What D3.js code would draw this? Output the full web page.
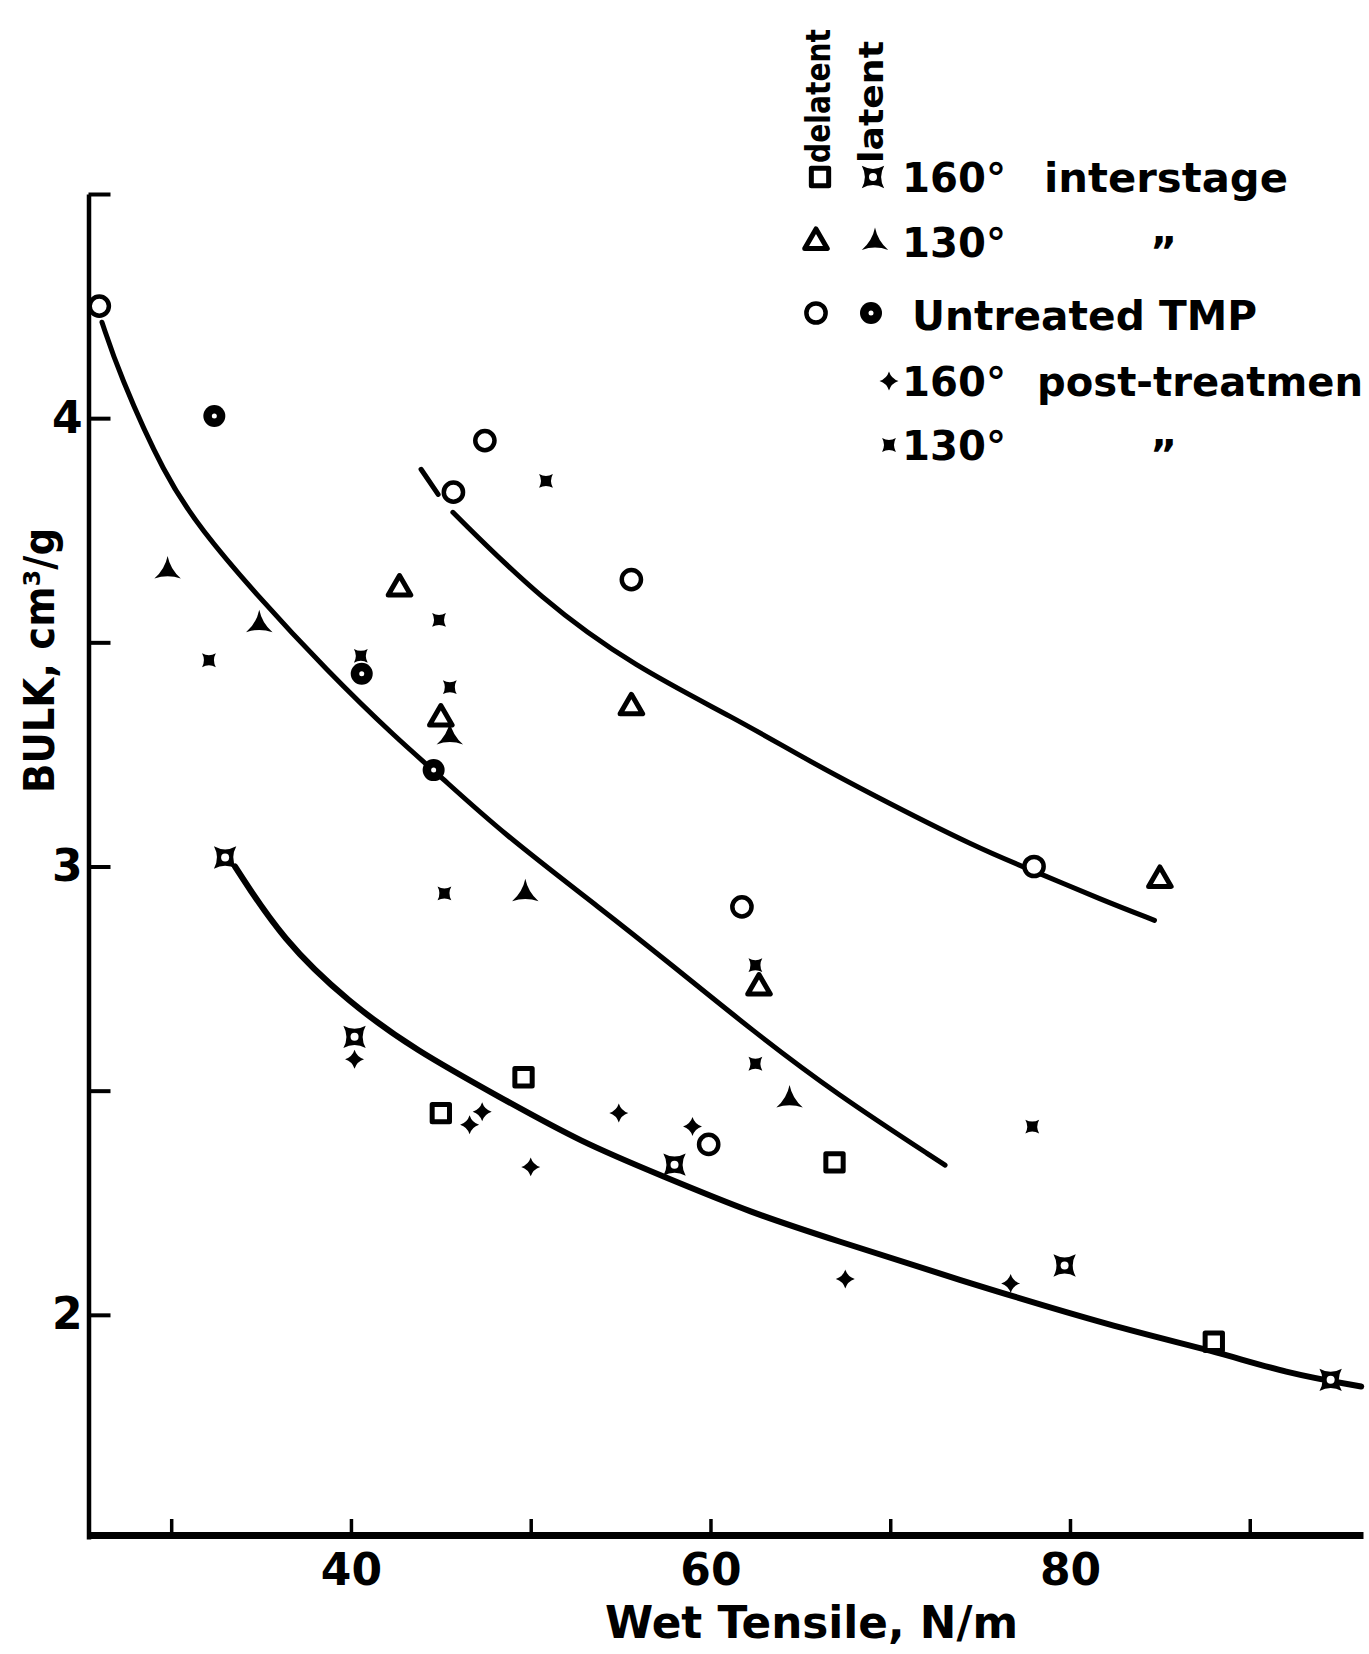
<!DOCTYPE html>
<html lang="en">
<head>
<meta charset="UTF-8">
<title>Bulk vs Wet Tensile</title>
<script src="https://cdn.jsdelivr.net/npm/d3@7"></script>
<style>
    body { margin: 0; background: #fff; }
    text { font-family: "DejaVu Sans", sans-serif; font-weight: bold; fill: #000; }
    .tick-label { font-size: 44px; }
    .axis-title { font-size: 44px; }
    .legend-text { font-size: 41px; }
    .legend-head { font-size: 34px; }
</style>
</head>
<body>
<div id="chart"></div>
<script>
// ---- data: [wet tensile N/m, bulk cm3/g] ----
const delatentUntreated = [[26.0, 4.25], [47.45, 3.95], [45.7, 3.835], [55.6, 3.64], [78.0, 3.0], [61.75, 2.91], [59.9, 2.38]];
const latentUntreated = [[32.4, 4.005], [40.6, 3.43], [44.6, 3.215]];
const delatent130 = [[42.7, 3.62], [45.0, 3.33], [55.6, 3.355], [62.7, 2.73], [85.0, 2.97]];
const latent130 = [[29.8, 3.66], [34.9, 3.54], [45.5, 3.29], [49.7, 2.94], [64.4, 2.48]];
const delatent160 = [[45.0, 2.45], [49.6, 2.53], [66.9, 2.34], [88.0, 1.94]];
const latent160 = [[33.0, 3.02], [40.2, 2.62], [58.0, 2.335], [79.7, 2.11], [94.5, 1.855]];
const post160 = [[40.2, 2.57], [47.3, 2.453], [46.6, 2.424], [50.0, 2.33], [54.9, 2.45], [59.0, 2.42], [67.5, 2.08], [76.7, 2.07]];
const post130 = [[50.85, 3.86], [32.1, 3.46], [44.9, 3.55], [45.5, 3.40], [40.55, 3.47], [45.2, 2.94], [62.5, 2.78], [62.5, 2.56], [77.9, 2.42]];

// hand-drawn fitted curves
const upperFitStub = [[43.9, 3.886], [44.85, 3.83]];
const upperFit = [[45.67, 3.79], [50.6, 3.594], [55.8, 3.445], [61.4, 3.33], [65.1, 3.244], [68.8, 3.164], [74.9, 3.04], [78.0, 2.99], [81.8, 2.925], [84.7, 2.88]];
const middleFit = [[26.15, 4.214], [27.1, 4.1], [29.65, 3.87], [31.7, 3.75], [34.5, 3.617], [38.7, 3.435], [42.7, 3.28], [44.6, 3.215], [48.4, 3.075], [54.0, 2.903], [57.7, 2.785], [62.3, 2.635], [66.9, 2.495], [73.05, 2.334]];
const lowerFit = [[33.55, 3.0], [36.2, 2.836], [39.9, 2.696], [43.6, 2.59], [48.3, 2.485], [52.85, 2.384], [57.3, 2.31], [62.3, 2.227], [66.9, 2.167], [73.4, 2.083], [82.7, 1.97], [88.0, 1.92], [92.0, 1.87], [96.2, 1.84]];

// axes
const xTicks = [30, 40, 50, 60, 70, 80, 90];
const xTickLabels = [40, 60, 80];
const yTicks = [2, 2.5, 3, 3.5, 4, 4.5];
const yTickLabels = [2, 3, 4];

// legend
const legendTemps = ["160°", "130°", "", "160°", "130°"];
const legendWords = ["interstage", "\u201D", "", "post-treatmen", "\u201D"];
const legendUntreated = "Untreated TMP";

const W = 1369, H = 1654;
const svg = d3.select("#chart").append("svg").attr("width", W).attr("height", H);
svg.append("rect").attr("width", W).attr("height", H).attr("fill", "#fff");

const x = d3.scaleLinear().domain([25.4, 96.3]).range([88.5, 1363]);
const y = d3.scaleLinear().domain([1.5, 4.5]).range([1539, 194]);

// custom marker shapes
const concaveSq = {
    draw(c, size) {
        const r = Math.sqrt(size) / 2, k = r * 0.45;
        c.moveTo(-r, -r);
        c.quadraticCurveTo(0, -k, r, -r);
        c.quadraticCurveTo(k, 0, r, r);
        c.quadraticCurveTo(0, k, -r, r);
        c.quadraticCurveTo(-k, 0, -r, -r);
        c.closePath();
    }
};
const star4 = {
    draw(c, size) {
        const r = Math.sqrt(size) / 2, k = r * 0.24;
        c.moveTo(0, -r);
        c.quadraticCurveTo(k, -k, r, 0);
        c.quadraticCurveTo(k, k, 0, r);
        c.quadraticCurveTo(-k, k, -r, 0);
        c.quadraticCurveTo(-k, -k, 0, -r);
        c.closePath();
    }
};
const concaveTri = {
    draw(c, size) {
        const r = Math.sqrt(size) / 2;
        const p = [[0, -r * 1.1], [r, r * 0.6], [-r, r * 0.6]];
        c.moveTo(p[0][0], p[0][1]);
        for (let i = 0; i < 3; i++) {
            const a = p[i], b = p[(i + 1) % 3];
            c.quadraticCurveTo((a[0] + b[0]) * 0.2, (a[1] + b[1]) * 0.2, b[0], b[1]);
        }
        c.closePath();
    }
};

const markerStyles = {
    circOpen: g => g.append("path").attr("d", d3.symbol(d3.symbolCircle, 290)).attr("fill", "#fff").attr("stroke", "#000").attr("stroke-width", 4.5),
    bull: g => {
        g.append("circle").attr("r", 11).attr("fill", "#000");
        g.append("circle").attr("r", 2.5).attr("fill", "#fff");
    },
    triOpen: g => g.append("path").attr("d", d3.symbol(d3.symbolTriangle, 220)).attr("fill", "#fff").attr("stroke", "#000").attr("stroke-width", 5).attr("stroke-linejoin", "round"),
    triFilled: g => g.append("path").attr("d", d3.symbol(concaveTri, 700)).attr("fill", "#000"),
    sqOpen: g => g.append("path").attr("d", d3.symbol(d3.symbolSquare, 300)).attr("fill", "#fff").attr("stroke", "#000").attr("stroke-width", 5).attr("stroke-linejoin", "round"),
    sqLatent: g => {
        g.append("path").attr("d", d3.symbol(concaveSq, 500)).attr("fill", "#000");
        g.append("circle").attr("r", 4).attr("fill", "#fff");
    },
    plus: g => g.append("path").attr("d", d3.symbol(star4, 360)).attr("fill", "#000"),
    cross: g => g.append("path").attr("d", d3.symbol(concaveSq, 190)).attr("fill", "#000")
};

// axes
const yAxis = svg.append("g")
    .attr("transform", `translate(${x(25.4)},0)`)
    .call(d3.axisRight(y).tickValues(yTicks).tickSize(22).tickSizeOuter(0).tickFormat(""));
yAxis.select(".domain").attr("stroke-width", 4.5);
yAxis.selectAll(".tick line").attr("stroke-width", 4);

const yLabels = svg.append("g")
    .attr("transform", `translate(${x(25.4) - 4},0)`)
    .call(d3.axisLeft(y).tickValues(yTickLabels).tickSize(0).tickPadding(2).tickFormat(d3.format("d")));
yLabels.select(".domain").remove();
yLabels.attr("font-size", null).attr("font-family", null);
yLabels.selectAll("text").attr("class", "tick-label");

const xAxis = svg.append("g")
    .attr("transform", `translate(0,${y(1.5) - 4})`)
    .call(d3.axisTop(x).tickValues(xTicks).tickSize(16).tickSizeOuter(0).tickFormat(""));
xAxis.select(".domain").attr("stroke-width", 7);
xAxis.selectAll(".tick line").attr("stroke-width", 3.5);

const xLabels = svg.append("g")
    .attr("transform", `translate(0,${y(1.5)})`)
    .call(d3.axisBottom(x).tickValues(xTickLabels).tickSize(0).tickPadding(15).tickFormat(d3.format("d")));
xLabels.select(".domain").remove();
xLabels.attr("font-size", null).attr("font-family", null);
xLabels.selectAll("text").attr("class", "tick-label");

svg.append("text").attr("class", "axis-title")
    .attr("x", 605).attr("y", 1638)
    .attr("textLength", 413).attr("lengthAdjust", "spacingAndGlyphs")
    .text("Wet  Tensile, N/m");

svg.append("text").attr("class", "axis-title")
    .attr("transform", "translate(54,793) rotate(-90)")
    .style("font-size", "42px")
    .attr("textLength", 265).attr("lengthAdjust", "spacingAndGlyphs")
    .text("BULK, cm³/g");

// fitted curves
const line = d3.line().x(d => x(d[0])).y(d => y(d[1])).curve(d3.curveBasis);
[[upperFitStub, 5], [upperFit, 5], [middleFit, 5], [lowerFit, 6]].forEach(([pts, w]) => {
    svg.append("path").datum(pts)
        .attr("d", line)
        .attr("fill", "none")
        .attr("stroke", "#000")
        .attr("stroke-width", w)
        .attr("stroke-linecap", "round");
});

// points
const series = [
    [delatentUntreated, "circOpen"], [latentUntreated, "bull"],
    [delatent130, "triOpen"], [latent130, "triFilled"],
    [delatent160, "sqOpen"], [latent160, "sqLatent"],
    [post160, "plus"], [post130, "cross"]
];
series.forEach(([pts, kind]) => {
    svg.append("g").selectAll("g").data(pts).enter().append("g")
        .attr("transform", d => `translate(${x(d[0])},${y(d[1])})`)
        .each(function () { markerStyles[kind](d3.select(this)); });
});

// legend
const leg = svg.append("g");
leg.append("text").attr("class", "legend-head")
    .attr("transform", "translate(830,163) rotate(-90)")
    .attr("textLength", 134).attr("lengthAdjust", "spacingAndGlyphs")
    .text("delatent");
leg.append("text").attr("class", "legend-head")
    .attr("transform", "translate(883,163) rotate(-90)")
    .attr("textLength", 122).attr("lengthAdjust", "spacingAndGlyphs")
    .text("latent");

const rowY = [177, 242, 313, 381, 445];
const col1 = [["sqOpen", 820], ["triOpen", 816], ["circOpen", 816]];
const col2 = [["sqLatent", 873], ["triFilled", 875], ["bull", 871], ["plus", 889], ["cross", 889]];
col1.forEach(([kind, cx], i) => markerStyles[kind](leg.append("g").attr("transform", `translate(${cx},${rowY[i]})`)));
col2.forEach(([kind, cx], i) => markerStyles[kind](leg.append("g").attr("transform", `translate(${cx},${rowY[i]})`)));

legendTemps.forEach((t, i) => {
    if (!t) return;
    leg.append("text").attr("class", "legend-text")
        .attr("x", 902).attr("y", rowY[i] + 15)
        .attr("textLength", 104).attr("lengthAdjust", "spacingAndGlyphs")
        .text(t);
});
legendWords.forEach((w, i) => {
    if (!w) return;
    const ditto = w === "\u201D";
    const t = leg.append("text").attr("class", "legend-text")
        .attr("x", ditto ? 1150 : (i === 0 ? 1044 : 1037))
        .attr("y", rowY[i] + (ditto ? 24 : 15))
        .text(w);
    if (!ditto) t.attr("textLength", i === 0 ? 244 : 326).attr("lengthAdjust", "spacingAndGlyphs");
});
leg.append("text").attr("class", "legend-text")
    .attr("x", 912).attr("y", rowY[2] + 17)
    .attr("textLength", 345).attr("lengthAdjust", "spacingAndGlyphs")
    .text(legendUntreated);
</script>
</body>
</html>
